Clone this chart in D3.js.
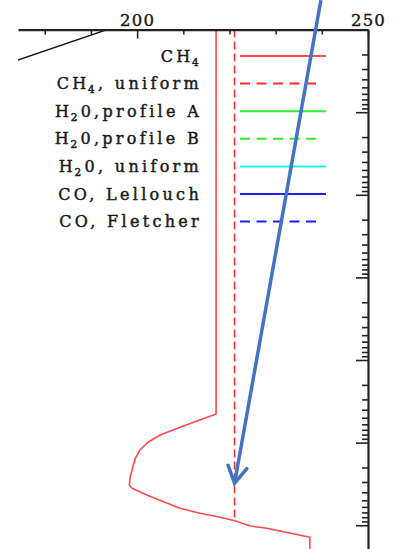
<!DOCTYPE html>
<html>
<head>
<meta charset="utf-8">
<script src="https://cdn.jsdelivr.net/npm/d3@7"></script>
<style>
  html, body { margin: 0; padding: 0; background: #fff; }
  svg { display: block; }
  text { font-family: "DejaVu Serif", "Liberation Serif", serif; fill: #1a1a1a; }
</style>
</head>
<body>
<svg id="chart" width="395" height="549"></svg>
<script>
// Temperature axis (K)
const tempTicks = [180, 190, 200, 210, 220, 230, 240, 250];
const tempMajor = [200, 250];
const tempLabels = [200, 250];
// Pressure decades (bar), log axis
const pressureDecades = [1e-6, 1e-5, 1e-4, 1e-3, 1e-2, 1e-1, 1];

// CH4 temperature profile
const ch4Temp = [217.1, 217.1, 213.6, 209.3, 205.0, 202.5, 200.6, 199.6, 199.1, 198.5, 198.3, 198.9,
                 202.1, 205.7, 209.3, 213.6, 218.0, 221.2, 224.5, 228.1, 237.4, 237.4];
const ch4Pres = [1e-6, 0.0451, 0.0532, 0.0653, 0.0809, 0.0975, 0.123, 0.155, 0.196, 0.259, 0.326, 0.357,
                 0.431, 0.519, 0.624, 0.718, 0.802, 0.882, 1.02, 1.09, 1.40, 3];
// Uniform CH4 case
const ch4UniformTemp = [221.1, 221.1];
const ch4UniformPres = [1e-6, 0.9];
// Upper-atmosphere profile (black)
const upperTemp = [170.3, 193.5];
const upperPres = [2.77e-6, 1e-6];

// Legend entries
const legendNames = ["CH_4", "CH_4, uniform", "H_20,profile A", "H_20,profile B",
                     "H_20, uniform", "CO, Lellouch", "CO, Fletcher"];
const legendColors = ["#ff4a4a", "#ff2a2a", "#2ef02e", "#2ef02e", "#1ef4f4", "#1c1cff", "#1c1cff"];
const legendDashed = [false, true, false, true, false, false, true];

// Annotation arrow (temperature K, pressure bar)
const arrowFrom = [239.8, 4.4e-7];
const arrowTo = [221.1, 0.31];

const svg = d3.select("#chart");
const plot = { left: 18, right: 368, top: 29.6, bottom: 549 };

const x = d3.scaleLinear().domain([174.2, 250]).range([plot.left, plot.right]);
const y = d3.scaleLog().domain([1e-6, 1.941]).range([plot.top, plot.bottom]);

svg.append("defs").append("clipPath").attr("id", "plotClip")
  .append("rect")
  .attr("x", plot.left).attr("y", plot.top)
  .attr("width", plot.right - plot.left).attr("height", plot.bottom - plot.top);

const line = d3.line().x(d => x(d[0])).y(d => y(d[1]));
const zipPts = (a, b) => a.map((v, i) => [v, b[i]]);

const g = svg.append("g").attr("clip-path", "url(#plotClip)");

// profiles
g.append("path").attr("d", line(zipPts(upperTemp, upperPres)))
  .attr("fill", "none").attr("stroke", "#111").attr("stroke-width", 1.4);
g.append("path").attr("d", line(zipPts(ch4Temp, ch4Pres)))
  .attr("fill", "none").attr("stroke", legendColors[0]).attr("stroke-width", 1.6)
  .attr("stroke-linejoin", "round");
g.append("path").attr("d", line(zipPts(ch4UniformTemp, ch4UniformPres)))
  .attr("fill", "none").attr("stroke", legendColors[1]).attr("stroke-width", 1.5)
  .attr("stroke-dasharray", "8,4");

// top temperature axis, ticks pointing into the plot
const topAxis = svg.append("g").attr("transform", `translate(0,${plot.top})`)
  .call(d3.axisBottom(x).tickValues(tempTicks).tickSize(5).tickSizeOuter(0).tickFormat(""));
topAxis.select(".domain").attr("stroke", "#222").attr("stroke-width", 2.2);
topAxis.selectAll(".tick line").attr("stroke", "#222").attr("stroke-width", 1.5)
  .attr("y2", d => tempMajor.includes(d) ? 9 : 5);

const topLabels = svg.append("g").attr("transform", `translate(0,${plot.top})`)
  .call(d3.axisTop(x).tickValues(tempLabels).tickSize(0).tickPadding(4).tickFormat(d3.format("d")));
topLabels.select(".domain").remove();
topLabels.selectAll("text")
  .attr("font-size", 16.5).attr("letter-spacing", 1.2).attr("fill", "#1a1a1a")
  .attr("stroke", "#1a1a1a").attr("stroke-width", 0.4)
  .style("font-family", "'DejaVu Serif', serif");

// right pressure axis (log), ticks pointing into the plot
const pTicks = [];
pressureDecades.forEach(d => {
  for (let m = 1; m <= 9; m++) {
    const v = m * d;
    if (v <= y.domain()[1]) pTicks.push(v);
  }
});
const rightAxis = svg.append("g").attr("transform", `translate(${plot.right},0)`)
  .call(d3.axisLeft(y).tickValues(pTicks).tickSize(6).tickSizeOuter(0).tickFormat(""));
rightAxis.select(".domain").attr("stroke", "#222").attr("stroke-width", 2.2);
rightAxis.selectAll(".tick line").attr("stroke", "#222").attr("stroke-width", 1.6)
  .attr("x2", d => pressureDecades.includes(d) ? -12 : -6);

// legend
const legendTop = 56, legendStep = 27.6;
const legendTextRight = 202, legendLineStart = 240, legendLineEnd = 326;
const legend = svg.append("g");
legendNames.forEach((name, i) => {
  const yy = legendTop + i * legendStep;
  const t = legend.append("text")
    .attr("x", legendTextRight).attr("y", yy + 5.5)
    .attr("text-anchor", "end")
    .attr("font-size", 16).attr("letter-spacing", 3.3)
    .attr("stroke", "#1a1a1a").attr("stroke-width", 0.45);
  const m = name.match(/^([^_]*)_(\d)(.*)$/);
  if (m) {
    t.append("tspan").text(m[1]);
    t.append("tspan").attr("font-size", 10.5).attr("dx", -1.5).attr("dy", 4).text(m[2]);
    t.append("tspan").attr("dy", -4).text(m[3]);
  } else {
    t.text(name);
  }
  legend.append("line")
    .attr("x1", legendLineStart).attr("x2", legendDashed[i] ? legendLineEnd - 6 : legendLineEnd)
    .attr("y1", yy).attr("y2", yy)
    .attr("stroke", legendColors[i]).attr("stroke-width", 2)
    .attr("stroke-dasharray", legendDashed[i] ? "10,6.5" : null);
});

// annotation arrow
const ax0 = x(arrowFrom[0]), ay0 = y(arrowFrom[1]);
const ax1 = x(arrowTo[0]), ay1 = y(arrowTo[1]);
const ang = Math.atan2(ay0 - ay1, ax0 - ax1);
const headLen = 19, headSpread = Math.PI / 6;
svg.append("line")
  .attr("x1", ax0).attr("y1", ay0).attr("x2", ax1).attr("y2", ay1)
  .attr("stroke", "#4472c4").attr("stroke-width", 3.5);
svg.append("path")
  .attr("d", d3.line()([
    [ax1 + headLen * Math.cos(ang - headSpread), ay1 + headLen * Math.sin(ang - headSpread)],
    [ax1, ay1],
    [ax1 + headLen * Math.cos(ang + headSpread), ay1 + headLen * Math.sin(ang + headSpread)]
  ]))
  .attr("fill", "none").attr("stroke", "#4472c4").attr("stroke-width", 3.5)
  .attr("stroke-linejoin", "miter").attr("stroke-linecap", "round");
</script>
</body>
</html>
